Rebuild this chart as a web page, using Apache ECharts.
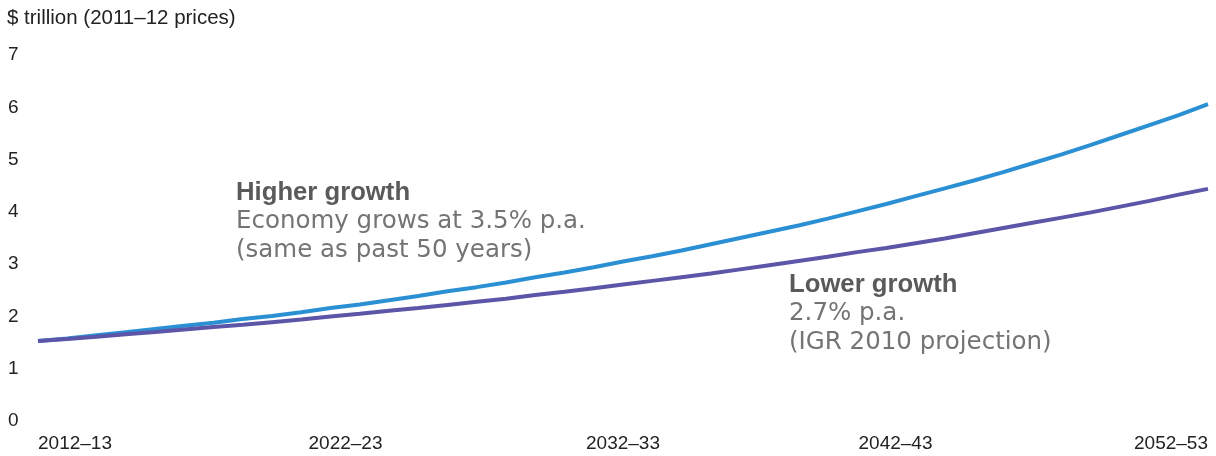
<!DOCTYPE html>
<html>
<head>
<meta charset="utf-8">
<script src="https://cdn.jsdelivr.net/npm/echarts@6/dist/echarts.min.js"></script>
<style>html,body{margin:0;padding:0;background:#fff}#c{width:1216px;height:456px}</style>
</head>
<body>
<div id="c"></div>
<script>
const years = [];
for (let y = 2012; y <= 2052; y++) years.push(y + '–' + String((y + 1) % 100).padStart(2, '0'));
const higherGrowth = [1.53,1.58,1.64,1.70,1.76,1.82,1.88,1.95,2.01,2.08,2.16,2.23,2.31,2.39,2.48,2.56,2.65,2.75,2.84,2.94,3.05,3.15,3.26,3.38,3.50,3.62,3.74,3.87,4.01,4.15,4.30,4.45,4.60,4.76,4.93,5.10,5.28,5.47,5.66,5.85,6.06];
const lowerGrowth = [1.53,1.57,1.61,1.66,1.70,1.75,1.80,1.84,1.89,1.94,2.00,2.05,2.11,2.16,2.22,2.28,2.34,2.41,2.47,2.54,2.61,2.68,2.75,2.82,2.90,2.98,3.06,3.14,3.23,3.31,3.40,3.49,3.59,3.69,3.79,3.89,3.99,4.10,4.21,4.33,4.44];
const yTicks = [0,1,2,3,4,5,6,7];
const yTitle = '$ trillion (2011–12 prices)';

const font = 'Liberation Sans, Arial, sans-serif';
const rfont = 'DejaVu Sans, sans-serif';
const chart = echarts.init(document.getElementById('c'), null, {renderer: 'canvas'});
const annRich = {
  h: {fontSize: 25.7, fontWeight: 'bold', fontFamily: font, fill: '#5a5a5a', lineHeight: 29},
  r: {fontSize: 24.5, fontFamily: rfont, fill: '#747474', lineHeight: 29}
};
chart.setOption({
  animation: false,
  grid: {left: 38, right: 8, top: 55, bottom: 35},
  xAxis: {
    type: 'category', data: years, boundaryGap: false,
    axisLine: {show: false}, axisTick: {show: false}, splitLine: {show: false},
    axisLabel: {
      interval: 9, margin: 13, color: '#222', fontSize: 19, fontFamily: font,
      alignMinLabel: 'left', alignMaxLabel: 'right',
      formatter: function (v, i) {
        if (i === 10) return '{a|' + v + '}';
        if (i === 30) return '{b|' + v + '}';
        return v;
      },
      rich: {
        a: {fontSize: 19, fontFamily: font, color: '#222', padding: [0, 0, 0, 30]},
        b: {fontSize: 19, fontFamily: font, color: '#222', padding: [0, 40, 0, 0]}
      }
    }
  },
  yAxis: {
    type: 'value', min: yTicks[0], max: yTicks[yTicks.length - 1], interval: 1,
    name: yTitle, nameLocation: 'end', nameGap: 37,
    nameTextStyle: {align: 'left', verticalAlign: 'middle', color: '#222', fontSize: 20.5, fontFamily: font, padding: [0, 0, 0, -31]},
    axisLine: {show: false}, axisTick: {show: false}, splitLine: {show: false},
    axisLabel: {align: 'left', margin: 30, color: '#222', fontSize: 19, fontFamily: font}
  },
  series: [
    {name: 'Higher growth', type: 'line', data: higherGrowth, showSymbol: false,
     lineStyle: {color: '#2b90d3', width: 4}, itemStyle: {color: '#2b90d3'}, z: 2},
    {name: 'Lower growth', type: 'line', data: lowerGrowth, showSymbol: false,
     lineStyle: {color: '#5c55a8', width: 4}, itemStyle: {color: '#5c55a8'}, z: 3}
  ],
  graphic: [
    {type: 'text', left: 236, top: 180, style: {
      text: '{h|Higher growth}\n{r|Economy grows at 3.5% p.a.}\n{r|(same as past 50 years)}',
      rich: annRich}},
    {type: 'text', left: 789, top: 272, style: {
      text: '{h|Lower growth}\n{r|2.7% p.a.}\n{r|(IGR 2010 projection)}',
      rich: annRich}}
  ]
});
</script>
</body>
</html>
